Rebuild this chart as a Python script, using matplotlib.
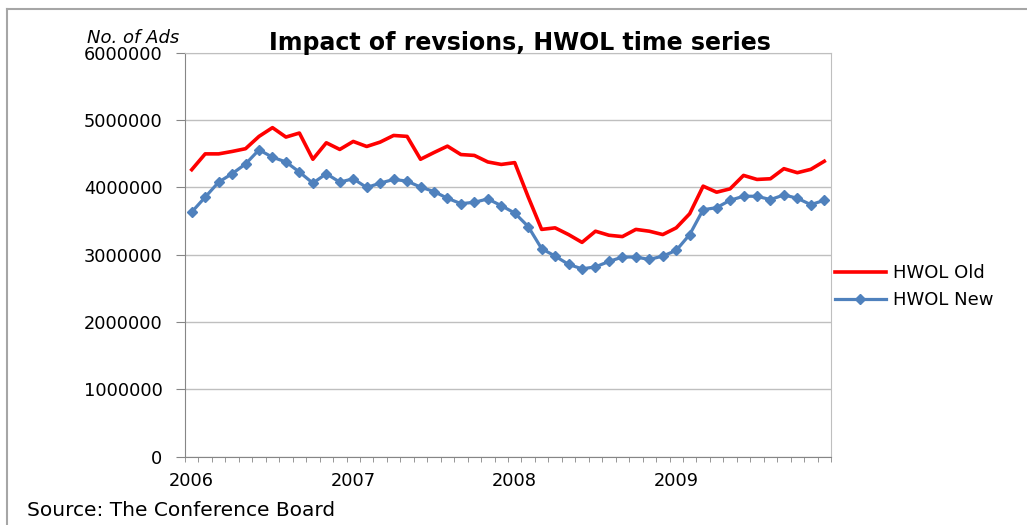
import numpy as np
import matplotlib.pyplot as plt
from matplotlib.lines import Line2D

# monthly values, Jan 2006 .. Dec 2009
years = ['2006', '2007', '2008', '2009']
hwol_old = [4265000, 4500000, 4500000, 4536000, 4577000, 4760000, 4890000, 4750000,
            4810000, 4420000, 4665000, 4566000, 4685000, 4610000, 4675000, 4774000,
            4760000, 4420000, 4520000, 4615000, 4490000, 4477000, 4380000, 4343000,
            4370000, 3860000, 3377000, 3400000, 3300000, 3184000, 3350000, 3290000,
            3270000, 3377000, 3350000, 3300000, 3400000, 3610000, 4020000, 3930000,
            3980000, 4180000, 4120000, 4130000, 4280000, 4220000, 4270000, 4390000]
hwol_new = [3635000, 3857000, 4080000, 4205000, 4350000, 4560000, 4450000, 4380000,
            4230000, 4065000, 4205000, 4080000, 4130000, 4000000, 4065000, 4120000,
            4095000, 4006000, 3940000, 3840000, 3760000, 3780000, 3830000, 3730000,
            3620000, 3420000, 3090000, 2980000, 2857000, 2790000, 2820000, 2900000,
            2966000, 2966000, 2930000, 2980000, 3065000, 3300000, 3670000, 3700000,
            3810000, 3870000, 3870000, 3820000, 3890000, 3840000, 3745000, 3810000]
y_ticks = [0, 1000000, 2000000, 3000000, 4000000, 5000000, 6000000]

W, H = 1027, 525
fig = plt.figure(figsize=(W / 100, H / 100), dpi=100)
ax = fig.add_axes([185 / W, 68.5 / H, 646 / W, 403.5 / H])

x = np.arange(len(hwol_old))
ax.plot(x, hwol_old, color='#FF0000', lw=2.6, label='HWOL Old',
        solid_joinstyle='round', zorder=3)
ax.plot(x, hwol_new, color='#4F81BD', lw=2.3, marker='D', ms=5,
        label='HWOL New', zorder=3)

ax.set_xlim(-0.5, len(x) - 0.5)
ax.set_ylim(0, 6000000)
ax.set_yticks(y_ticks)
ax.set_yticklabels([str(v) for v in y_ticks], fontsize=12.8)
ax.grid(axis='y', color='#BFBFBF', lw=1)
ax.set_axisbelow(True)

ax.set_xticks(np.arange(0, len(x), 12))
ax.set_xticklabels(years, fontsize=12.8)
ax.set_xticks(np.arange(-0.5, len(x), 1), minor=True)
ax.tick_params(axis='x', which='major', length=0, pad=11)
ax.tick_params(axis='x', which='minor', length=3.6, color='#868686')
ax.tick_params(axis='y', length=6.2, pad=10, color='#868686')

for s in ['left', 'bottom']:
    ax.spines[s].set_color('#868686')
for s in ['top', 'right']:
    ax.spines[s].set_color('#BFBFBF')

fig.legend(loc='upper left', bbox_to_anchor=(835 / W, 1 - 264 / H), frameon=False,
           handlelength=2.8, handletextpad=0.4, borderpad=0, borderaxespad=0,
           labelspacing=0.5, fontsize=13)

fig.text(520 / W, 1 - 43 / H, 'Impact of revsions, HWOL time series',
         ha='center', va='center', fontsize=17, fontweight='bold')
fig.text(133 / W, 1 - 38 / H, 'No. of Ads', ha='center', va='center',
         fontsize=13, style='italic')
fig.text(27 / W, 1 - 510 / H, 'Source: The Conference Board', ha='left',
         va='center', fontsize=14.5)

# outer chart frame (left and top edges visible)
fig.add_artist(Line2D([7 / W, 7 / W], [0, 1 - 9 / H], transform=fig.transFigure,
                      color='#A6A6A6', lw=1.5))
fig.add_artist(Line2D([7 / W, 1], [1 - 9 / H, 1 - 9 / H], transform=fig.transFigure,
                      color='#A6A6A6', lw=1.5))

fig.savefig('out.png', dpi=100)
